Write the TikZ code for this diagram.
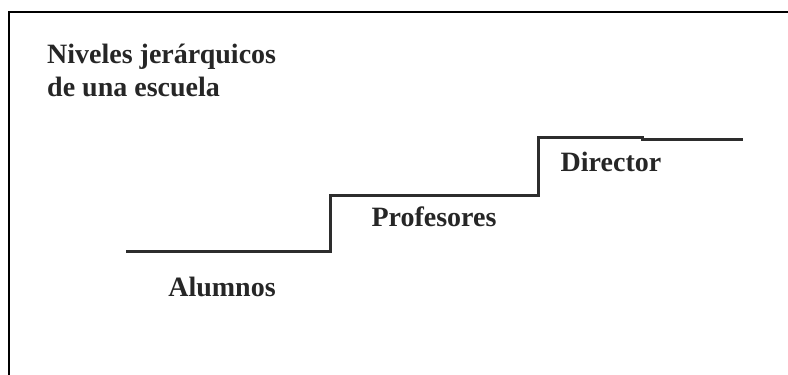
\documentclass[tikz,border=0pt]{standalone}
\usepackage{fontspec}
\setmainfont{Liberation Serif}
\usepackage{xcolor}
\usetikzlibrary{math}
\definecolor{sgray}{RGB}{45,45,45}

\tikzset{
  nivel/.style={font=\fontsize{28}{33}\selectfont\bfseries, text=black!85, inner sep=0pt, anchor=base},
}

\begin{document}
\begin{tikzpicture}[x=1pt,y=-1pt]
\tikzmath{
\yA=251;
\yB=195;
\yC=137;
}
\useasboundingbox (0,0) rectangle (788,375);

%frame
\draw[line width=2.5pt] (9,375) -- (9,12) -- (788,12);

%title
\node[nivel, anchor=north west, align=left] (title) at (47,44) {Niveles jerárquicos\\de una escuela};

%stairs
\coordinate (s0) at (126,\yA);
\coordinate (s1) at (330,\yA);
\coordinate (s2) at (330,\yB);
\coordinate (s3) at (538,\yB);
\coordinate (s4) at (538,\yC);
\coordinate (s5) at (642,\yC);
\coordinate (s6) at (642,\yC+2);
\coordinate (s7) at (743,\yC+2);
\draw[line width=3pt, color=sgray] (s0) -- (s1) -- (s2) -- (s3) -- (s4) -- (s5) -- (s6) -- (s7);

%levels
\node[nivel] (alumnos) at (222,296) {Alumnos};
\node[nivel] (profesores) at (434,226) {Profesores};
\node[nivel] (director) at (611,171) {Director};

\end{tikzpicture}
\end{document}
